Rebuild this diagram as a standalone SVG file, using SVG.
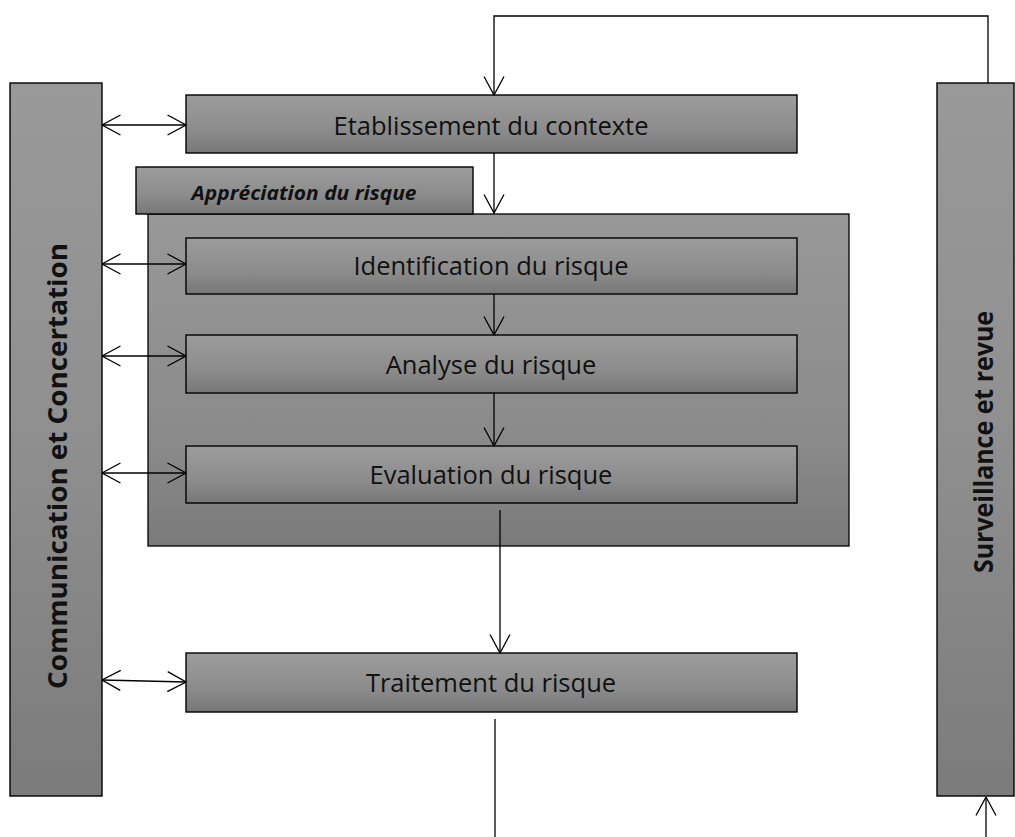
<svg xmlns="http://www.w3.org/2000/svg" width="1015" height="837" viewBox="0 0 1015 837">
  <defs>
    <linearGradient id="gBox" x1="0" y1="0" x2="0" y2="1">
      <stop offset="0" stop-color="#9c9c9c"/>
      <stop offset="0.6" stop-color="#8c8c8c"/>
      <stop offset="1" stop-color="#777777"/>
    </linearGradient>
    <linearGradient id="gCont" x1="0" y1="0" x2="0" y2="1">
      <stop offset="0" stop-color="#989898"/>
      <stop offset="0.7" stop-color="#8a8a8a"/>
      <stop offset="1" stop-color="#7a7a7a"/>
    </linearGradient>
    <linearGradient id="gBar" x1="0" y1="0" x2="0" y2="1">
      <stop offset="0" stop-color="#999999"/>
      <stop offset="0.5" stop-color="#8f8f8f"/>
      <stop offset="1" stop-color="#7b7b7b"/>
    </linearGradient>
    <marker id="arr" viewBox="0 0 20 22" refX="19.5" refY="11" markerWidth="20" markerHeight="22" markerUnits="userSpaceOnUse" orient="auto-start-reverse">
      <path d="M1,1 L19.5,11 L1,21" fill="none" stroke="#000" stroke-width="1.3"/>
    </marker>
  </defs>
  <style>
    .box { fill: url(#gBox); stroke: #000; stroke-width: 1.4; }
    .bar { fill: url(#gBar); stroke: #000; stroke-width: 1.4; }
    .cont { fill: url(#gCont); stroke: #000; stroke-width: 1.3; }
    .lbl { font-family: "Open Sans", "Noto Sans", sans-serif; font-size: 25.5px; fill: #111; text-anchor: middle; }
    .side { font-family: "Open Sans", "Noto Sans", sans-serif; font-size: 27px; font-weight: bold; fill: #111; text-anchor: middle; }
    .cap { font-family: "Open Sans", "Noto Sans", sans-serif; font-size: 19px; font-weight: bold; font-style: italic; fill: #111; text-anchor: middle; }
    .ln { fill: none; stroke: #000; stroke-width: 1.3; }
  </style>

  <g id="communication">
    <rect class="bar" x="10" y="83" width="92" height="713"/>
    <text class="side" transform="translate(67,466) rotate(-90)" textLength="446" lengthAdjust="spacingAndGlyphs">Communication et Concertation</text>
  </g>

  <g id="surveillance">
    <rect class="bar" x="937" y="83" width="77" height="713"/>
    <text class="side" transform="translate(993,442) rotate(-90)" textLength="262" lengthAdjust="spacingAndGlyphs">Surveillance et revue</text>
  </g>

  <g id="etablissement">
    <rect class="box" x="186" y="95" width="611" height="58"/>
    <text class="lbl" x="491" y="135">Etablissement du contexte</text>
  </g>

  <g id="appreciation">
    <rect class="cont" x="148" y="214" width="701" height="332"/>
    <rect class="box" x="136" y="167" width="337" height="47"/>
    <text class="cap" x="304" y="200" textLength="225" lengthAdjust="spacingAndGlyphs">Appréciation du risque</text>
  </g>

  <g id="identification">
    <rect class="box" x="186" y="238" width="611" height="56"/>
    <text class="lbl" x="491" y="275">Identification du risque</text>
  </g>

  <g id="analyse">
    <rect class="box" x="186" y="335" width="611" height="58"/>
    <text class="lbl" x="491" y="374">Analyse du risque</text>
  </g>

  <g id="evaluation">
    <rect class="box" x="186" y="446" width="611" height="57"/>
    <text class="lbl" x="491" y="484">Evaluation du risque</text>
  </g>

  <g id="traitement">
    <rect class="box" x="186" y="653" width="611" height="59"/>
    <text class="lbl" x="491" y="692">Traitement du risque</text>
  </g>

  <g id="connectors">
    <path class="ln" d="M102,125 L186,125" marker-start="url(#arr)" marker-end="url(#arr)"/>
    <path class="ln" d="M102,264 L186,264" marker-start="url(#arr)" marker-end="url(#arr)"/>
    <path class="ln" d="M102,356 L186,356" marker-start="url(#arr)" marker-end="url(#arr)"/>
    <path class="ln" d="M102,473 L186,473" marker-start="url(#arr)" marker-end="url(#arr)"/>
    <path class="ln" d="M102,680 L186,682" marker-start="url(#arr)" marker-end="url(#arr)"/>
    <path class="ln" d="M988,83 L988,16 L494,16 L494,95" marker-end="url(#arr)"/>
    <path class="ln" d="M494,153 L494,213" marker-end="url(#arr)"/>
    <path class="ln" d="M494,294 L494,335" marker-end="url(#arr)"/>
    <path class="ln" d="M494,393 L494,446" marker-end="url(#arr)"/>
    <path class="ln" d="M500,510 L500,653" marker-end="url(#arr)"/>
    <path class="ln" d="M495,719 L495,837"/>
    <path class="ln" d="M986,837 L986,797" marker-end="url(#arr)"/>
  </g>
</svg>
